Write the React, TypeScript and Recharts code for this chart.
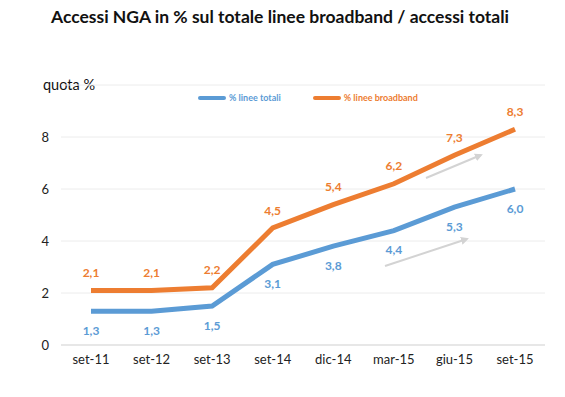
import { LineChart, Line, XAxis, YAxis, CartesianGrid, LabelList } from 'recharts';

const periods = ['set-11', 'set-12', 'set-13', 'set-14', 'dic-14', 'mar-15', 'giu-15', 'set-15'];
const lineeTotali = [1.3, 1.3, 1.5, 3.1, 3.8, 4.4, 5.3, 6.0];
const lineeBroadband = [2.1, 2.1, 2.2, 4.5, 5.4, 6.2, 7.3, 8.3];
const yTicks = [0, 2, 4, 6, 8, 10];

const BLUE = '#5B9BD5';
const ORANGE = '#ED7D31';
const FONT = 'Lato, "Open Sans", sans-serif';

const series = [
  { key: 'totali', name: '% linee totali', color: BLUE },
  { key: 'broadband', name: '% linee broadband', color: ORANGE },
];

const data = periods.map((name, i) => ({
  name,
  totali: lineeTotali[i],
  broadband: lineeBroadband[i],
}));

const fmt = (v: number) => v.toFixed(1).replace('.', ',');

const makeLabel = (color: string, dy: number) => (props: any) => {
  const { x, y, value } = props;
  if (x === undefined || y === undefined || value === undefined) return null;
  return (
    <text
      x={x}
      y={y + dy}
      fill={color}
      fontSize={12}
      fontWeight={700}
      textAnchor="middle"
      dominantBaseline="central"
      fontFamily={FONT}
    >
      {fmt(Number(value))}
    </text>
  );
};

export default function App() {
  return (
    <div style={{ position: 'absolute', left: 0, top: 0, width: 565, height: 397, background: '#fff', overflow: 'hidden' }}>
      <div
        style={{
          position: 'absolute',
          left: 0,
          top: 6,
          width: 560,
          textAlign: 'center',
          fontFamily: FONT,
          fontWeight: 700,
          fontSize: 17.5,
          color: '#111',
        }}
      >
        Accessi NGA in % sul totale linee broadband / accessi totali
      </div>
      <div style={{ position: 'absolute', left: 43, top: 76, fontFamily: FONT, fontSize: 14.5, color: '#111' }}>
        quota %
      </div>
      {/* legend drawn outside the chart so it takes no plot space */}
      <div style={{ position: 'absolute', left: 198, top: 92, display: 'flex', alignItems: 'center', fontFamily: FONT }}>
        {series.map((s) => (
          <div key={s.key} style={{ display: 'flex', alignItems: 'center', marginRight: 32 }}>
            <span style={{ display: 'inline-block', width: 28, height: 4, background: s.color, borderRadius: 2, marginRight: 3 }} />
            <span style={{ color: s.color, fontSize: 9, fontWeight: 700 }}>{s.name}</span>
          </div>
        ))}
      </div>
      <LineChart width={565} height={397} data={data} margin={{ top: 85, right: 20, left: 21, bottom: 22 }}>
        <CartesianGrid vertical={false} stroke="#ececec" />
        <XAxis
          dataKey="name"
          padding={{ left: 30, right: 30 }}
          axisLine={{ stroke: '#d9d9d9' }}
          tickLine={false}
          tickSize={0}
          tickMargin={10}
          height={30}
          tick={{ fill: '#222', fontSize: 13, fontFamily: FONT }}
        />
        <YAxis
          domain={[0, 10]}
          ticks={yTicks}
          width={40}
          axisLine={false}
          tickLine={false}
          tickSize={0}
          tickMargin={12}
          tickFormatter={(v: number) => (v === 10 ? '' : String(v))}
          tick={{ fill: '#222', fontSize: 13, fontFamily: FONT }}
        />
        <Line
          name="% linee totali"
          dataKey="totali"
          stroke={BLUE}
          strokeWidth={5}
          dot={false}
          type="linear"
          isAnimationActive={false}
        >
          <LabelList dataKey="totali" content={makeLabel(BLUE, 19)} />
        </Line>
        <Line
          name="% linee broadband"
          dataKey="broadband"
          stroke={ORANGE}
          strokeWidth={5}
          dot={false}
          type="linear"
          isAnimationActive={false}
        >
          <LabelList dataKey="broadband" content={makeLabel(ORANGE, -18)} />
        </Line>
      </LineChart>
      <svg width={565} height={397} style={{ position: 'absolute', left: 0, top: 0, pointerEvents: 'none' }}>
        <defs>
          <marker id="arr" markerWidth="8" markerHeight="8" refX="6" refY="4" orient="auto" markerUnits="userSpaceOnUse">
            <path d="M0,0 L8,4 L0,8 z" fill="#d3d3d3" />
          </marker>
        </defs>
        <line x1={426} y1={178} x2={481} y2={155} stroke="#d3d3d3" strokeWidth={2} markerEnd="url(#arr)" />
        <line x1={385} y1={266} x2={467} y2={239} stroke="#d3d3d3" strokeWidth={2} markerEnd="url(#arr)" />
      </svg>
    </div>
  );
}
